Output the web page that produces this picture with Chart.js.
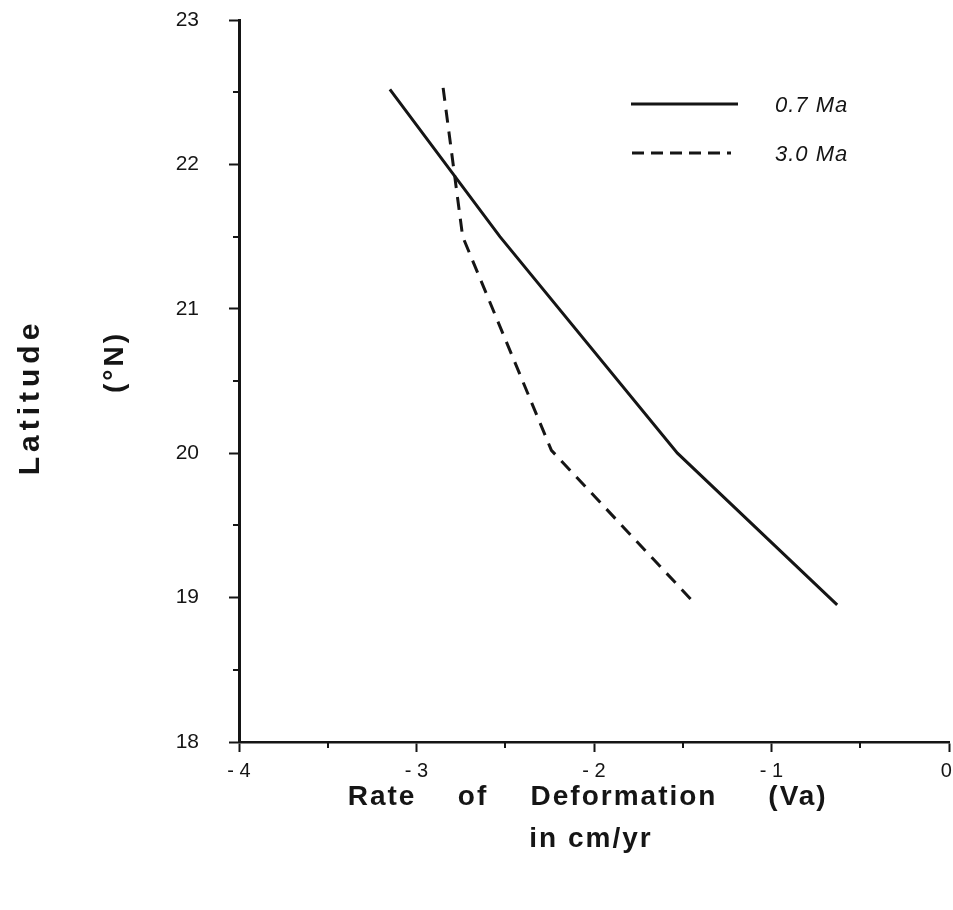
<!DOCTYPE html>
<html>
<head>
<meta charset="utf-8">
<script src="https://cdn.jsdelivr.net/npm/chart.js@4/dist/chart.umd.min.js"></script>
<style>
  body { margin: 0; background: #fff; }
  #wrap { width: 953px; height: 910px; position: relative; }
</style>
</head>
<body>
<div id="wrap"><canvas id="myChart" width="953" height="910"></canvas></div>
<script>
// series: latitude (°N) vs rate (cm/yr)
const seriesNames = ['0.7 Ma', '3.0 Ma'];
const rate07 = [-3.15, -2.53, -1.53, -0.63];
const lat07 = [22.52, 21.5, 20.0, 18.95];
const rate30 = [-2.85, -2.74, -2.24, -1.44];
const lat30 = [22.53, 21.5, 20.02, 18.97];

const xTicks = [-4, -3, -2, -1, 0];
const yTicks = [18, 19, 20, 21, 22, 23];

function toPoints(xs, ys) {
  return xs.map(function (x, i) { return { x: x, y: ys[i] }; });
}

// the short ticks sit halfway between labelled ones
function midpoints(arr) {
  return arr.slice(1).map(function (v, i) { return (v + arr[i]) / 2; });
}

const ink = '#151515';

function majorOnly(list) {
  return function (context) {
    return list.includes(context.tick.value) ? ink : 'rgba(0,0,0,0)';
  };
}

// minor ticks, legend and axis titles drawn by hand
const extras = {
  id: 'extras',
  afterDraw: function (chart) {
    const ctx = chart.ctx;
    const xs = chart.scales.x;
    const ys = chart.scales.y;
    ctx.save();
    ctx.fillStyle = ink;
    ctx.strokeStyle = ink;

    // minor ticks
    ctx.lineWidth = 2;
    midpoints(xTicks).forEach(function (v) {
      const px = Math.round(xs.getPixelForValue(v));
      ctx.beginPath();
      ctx.moveTo(px, xs.top);
      ctx.lineTo(px, xs.top + 6);
      ctx.stroke();
    });
    midpoints(yTicks).forEach(function (v) {
      const py = Math.round(ys.getPixelForValue(v));
      ctx.beginPath();
      ctx.moveTo(ys.right, py);
      ctx.lineTo(ys.right - 6, py);
      ctx.stroke();
    });

    // legend
    ctx.lineWidth = 3;
    ctx.beginPath();
    ctx.moveTo(631, 104);
    ctx.lineTo(738, 104);
    ctx.stroke();
    ctx.setLineDash([12, 7]);
    ctx.beginPath();
    ctx.moveTo(632, 153);
    ctx.lineTo(731, 153);
    ctx.stroke();
    ctx.setLineDash([]);
    ctx.font = 'italic 22px "Liberation Sans"';
    ctx.letterSpacing = '1px';
    ctx.textAlign = 'left';
    ctx.textBaseline = 'middle';
    ctx.fillText(seriesNames[0], 775, 106);
    ctx.fillText(seriesNames[1], 775, 155);

    // x title
    ctx.font = 'bold 28px "Liberation Sans"';
    ctx.letterSpacing = '2px';
    ctx.textAlign = 'center';
    const words = [['Rate', 382], ['of', 473], ['Deformation', 624], ['(Va)', 798]];
    words.forEach(function (w) { ctx.fillText(w[0], w[1], 797); });
    ctx.fillText('in cm/yr', 591, 839);

    // y title
    ctx.font = 'bold 30px "Liberation Sans"';
    ctx.letterSpacing = '5px';
    ctx.translate(31, 397);
    ctx.rotate(-Math.PI / 2);
    ctx.fillText('Latitude', 0, 0);
    ctx.restore();

    ctx.save();
    ctx.fillStyle = ink;
    ctx.font = 'bold 28px "Liberation Sans"';
    ctx.letterSpacing = '3px';
    ctx.textAlign = 'center';
    ctx.textBaseline = 'middle';
    ctx.translate(115, 362);
    ctx.rotate(-Math.PI / 2);
    ctx.fillText('(°N)', 0, 0);
    ctx.restore();
  }
};

const config = {
  type: 'scatter',
  data: {
    datasets: [{
      label: seriesNames[0],
      data: toPoints(rate07, lat07),
      showLine: true,
      borderColor: ink,
      borderWidth: 3,
      pointRadius: 0,
      tension: 0,
    }, {
      label: seriesNames[1],
      data: toPoints(rate30, lat30),
      showLine: true,
      borderColor: ink,
      borderWidth: 3,
      borderDash: [13, 9],
      pointRadius: 0,
      tension: 0,
    }],
  },
  options: {
    responsive: false,
    animation: false,
    layout: { padding: { top: 20, right: 4, left: 0, bottom: 0 } },
    plugins: {
      legend: { display: false },
      tooltip: { enabled: false },
    },
    scales: {
      x: {
        type: 'linear',
        min: xTicks[0],
        max: xTicks[xTicks.length - 1],
        afterFit: function (s) {
          s.height = 168;
          s.paddingLeft = 0;
          s.paddingRight = 0;
        },
        border: { display: true, color: ink, width: 2.5 },
        grid: { drawOnChartArea: false, drawTicks: true, tickLength: 10, tickWidth: 2, tickColor: majorOnly(xTicks) },
        ticks: {
          stepSize: 0.5,
          color: ink,
          font: { family: 'Liberation Sans', size: 20 },
          padding: 7,
          maxRotation: 0,
          callback: function (v) {
            if (!xTicks.includes(v)) return '';
            return v === 0 ? '0 ' : '- ' + Math.abs(v);
          },
        },
      },
      y: {
        type: 'linear',
        min: yTicks[0],
        max: yTicks[yTicks.length - 1],
        afterFit: function (s) {
          s.width = 239;
          s.paddingTop = 0;
          s.paddingBottom = 0;
        },
        border: { display: true, color: ink, width: 3 },
        grid: { drawOnChartArea: false, drawTicks: true, tickLength: 10, tickWidth: 2, tickColor: majorOnly(yTicks) },
        ticks: {
          stepSize: 0.5,
          color: ink,
          font: { family: 'Liberation Sans', size: 21 },
          padding: 30,
          callback: function (v) { return yTicks.includes(v) ? String(v) : ''; },
        },
      },
    },
  },
  plugins: [extras],
};

const myChart = new Chart(document.getElementById('myChart'), config);
</script>
</body>
</html>
